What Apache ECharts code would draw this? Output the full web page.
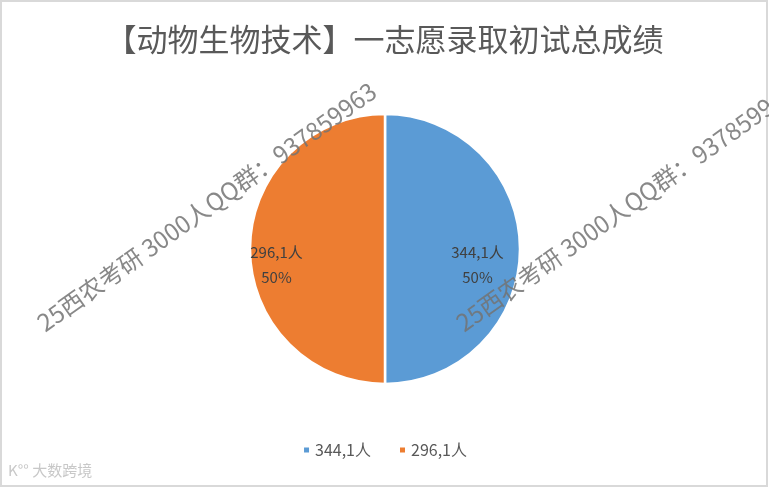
<!DOCTYPE html>
<html>
<head>
<meta charset="utf-8">
<script src="https://cdn.jsdelivr.net/npm/echarts@6/dist/echarts.min.js"></script>
<style>
html,body{margin:0;padding:0;background:#fff;}
#c{width:769px;height:488px;}
</style>
</head>
<body>
<div id="c"></div>
<script>
const titleText = '【动物生物技术】一志愿录取初试总成绩';
const categories = ['344,1人', '296,1人'];
const values = [1, 1];
const colors = ['#5B9BD5', '#ED7D31'];
const watermarkText = '25西农考研 3000人QQ群：937859963';
const logoText = '大数跨境';

const chart = echarts.init(document.getElementById('c'), null, {renderer: 'canvas'});
const ang = 35.4 * Math.PI / 180;
const wmStyle = {
  text: watermarkText,
  fontFamily: '"Noto Sans CJK SC", sans-serif',
  fontSize: 24,
  fill: 'rgba(115,115,115,0.85)',
  align: 'left',
  verticalAlign: 'bottom'
};
chart.setOption({
  animation: false,
  backgroundColor: '#ffffff',
  color: colors,
  title: {
    text: titleText,
    left: 'center',
    top: 19,
    textStyle: {
      fontFamily: '"Noto Sans CJK SC", sans-serif',
      fontSize: 31,
      fontWeight: 'normal',
      color: '#595959'
    }
  },
  legend: {
    bottom: 25,
    left: 'center',
    itemWidth: 7,
    itemHeight: 7,
    itemGap: 27,
    icon: 'rect',
    textStyle: {
      fontFamily: '"Noto Sans CJK SC", sans-serif',
      fontSize: 16,
      color: '#595959'
    },
    data: categories
  },
  series: [{
    type: 'pie',
    center: [385, 249],
    radius: 135,
    startAngle: 90,
    clockwise: true,
    silent: true,
    itemStyle: {borderColor: '#ffffff', borderWidth: 2.5},
    label: {
      show: true,
      position: 'inside',
      formatter: '{b}\n{d}%',
      fontFamily: '"Noto Sans CJK SC", sans-serif',
      fontSize: 15,
      lineHeight: 25,
      color: '#404040'
    },
    labelLayout: function (p) {
      return p.dataIndex === 0 ? {dx: 22, dy: 16} : {dx: -38, dy: 16};
    },
    data: categories.map((n, i) => ({name: n, value: values[i]}))
  }],
  graphic: [
    {
      type: 'rect', z: 0, silent: true,
      shape: {x: 1, y: 1, width: 766, height: 485},
      style: {fill: 'none', stroke: '#d9d9d9', lineWidth: 2}
    },
    {
      type: 'text', z: 100, silent: true,
      x: 47, y: 335, rotation: ang,
      style: wmStyle
    },
    {
      type: 'text', z: 100, silent: true,
      x: 466, y: 335, rotation: ang,
      style: wmStyle
    },
    {
      type: 'text', z: 100, silent: true,
      x: 8, y: 470,
      style: {
        text: 'K°° ' + logoText,
        fontFamily: '"Noto Sans CJK SC", sans-serif',
        fontSize: 15,
        fill: '#c8c8c8',
        align: 'left',
        verticalAlign: 'middle'
      }
    }
  ]
});
</script>
</body>
</html>
